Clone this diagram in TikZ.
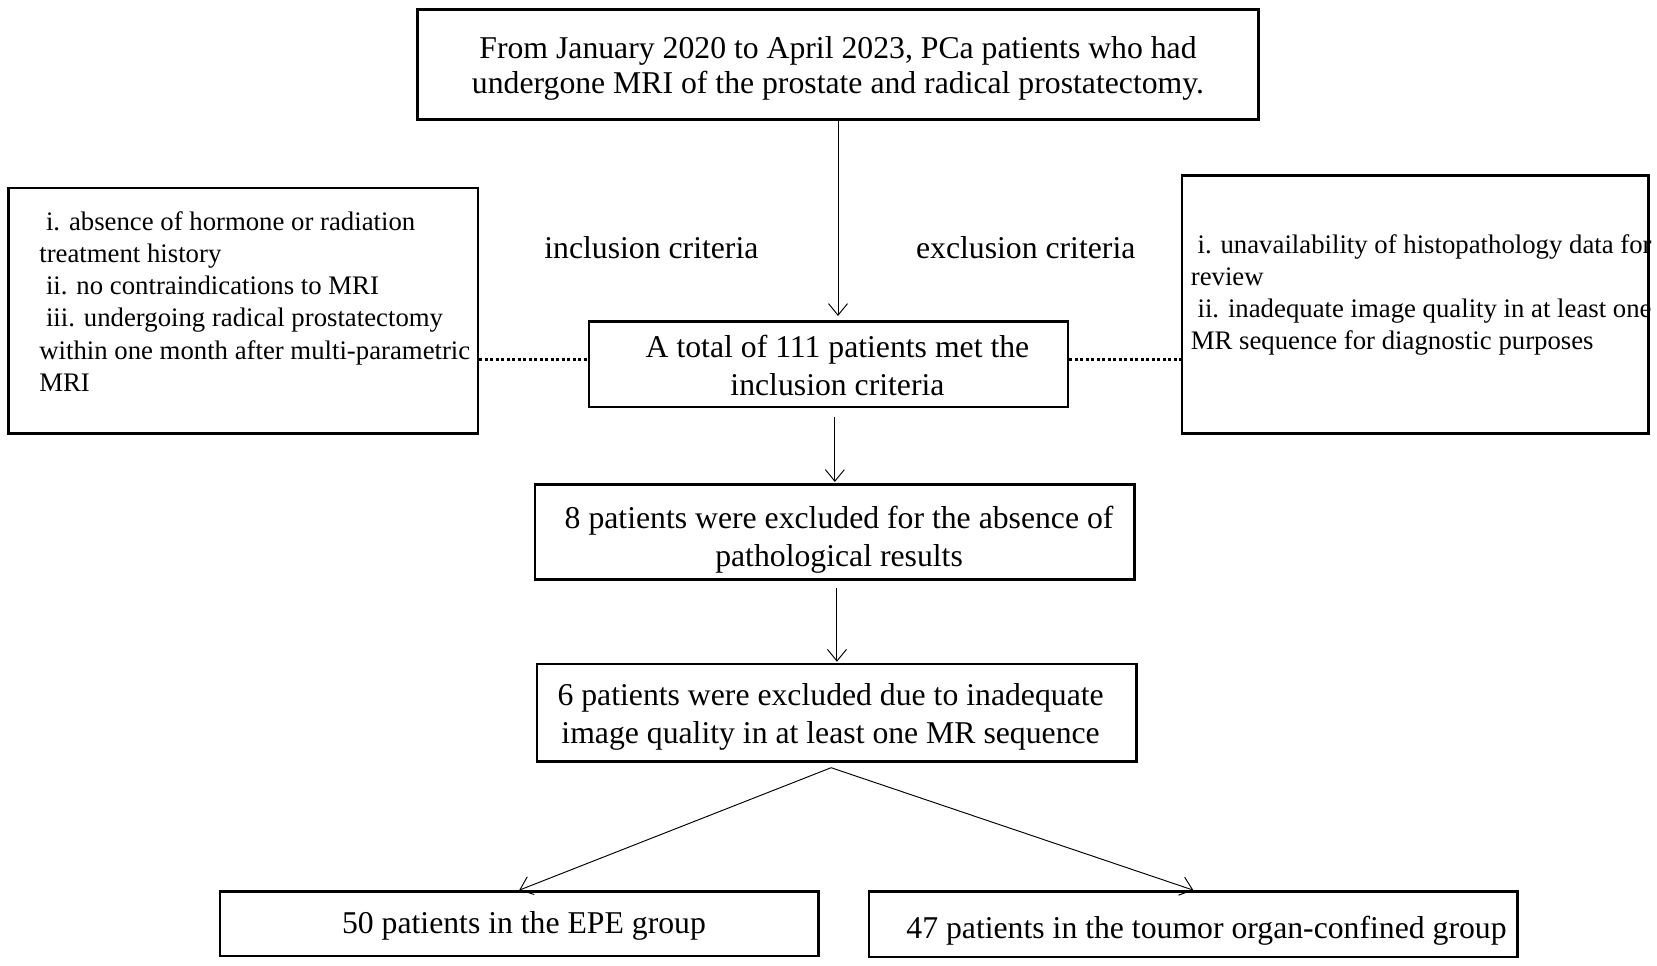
\documentclass[tikz,border=0pt]{standalone}
\usepackage{fontspec}
\setmainfont{Liberation Serif}
\usetikzlibrary{arrows.meta,calc}
\begin{document}
\begin{tikzpicture}[x=1pt,y=-1pt,
  box/.style={draw, line width=2.4pt, rectangle, inner sep=0pt},
  txt/.style={inner sep=0pt, align=center, font=\fontsize{30}{36}\selectfont},
  plain/.style={inner sep=0pt, align=left, font=\fontsize{25.3}{30.5}\selectfont},
  lbl/.style={inner sep=0pt, font=\fontsize{30}{33}\selectfont},
  arr/.style={line width=0.9pt, -{Straight Barb[length=11pt,width=18pt,line width=0.9pt]}},
  dotline/.style={line width=3.2pt, dash pattern=on 2.8pt off 2.4pt}]
\useasboundingbox (0,0) rectangle (1567,913);
\fill[white] (0,0) rectangle (1567,913);

% boxes
\node[box, minimum width=795pt, minimum height=104pt] (top) at (792.5,61) {};
\node[box, minimum width=453pt, minimum height=81pt] (total) at (783.5,344.5) {};
\node[box, minimum width=567pt, minimum height=90pt] (excl8) at (789.5,503) {};
\node[box, minimum width=567pt, minimum height=92pt] (excl6) at (791.5,674) {};
\node[box, minimum width=566pt, minimum height=61pt] (epe) at (491,873.5) {};
\node[box, minimum width=613pt, minimum height=62pt] (conf) at (1128.5,874) {};
\node[box, minimum width=444pt, minimum height=232pt] (inc) at (230,294) {};
\node[box, minimum width=441pt, minimum height=244pt] (exc) at (1338.5,288) {};

% texts
\node[txt, font=\fontsize{30}{33}\selectfont] (toptext) at (792.5,65)
  {From January 2020 to April 2023, PCa patients who had\\undergone MRI of the prostate and radical prostatectomy.};
\node[txt] (totaltext) at (792,345.5)
  {A total of 111 patients met the\\inclusion criteria};
\node[txt] (excl8text) at (793.5,510)
  {8 patients were excluded for the absence of\\pathological results};
\node[txt] (excl6text) at (785.5,678)
  {6 patients were excluded due to inadequate\\image quality in at least one MR sequence};
\node[txt] (epetext) at (495.5,875.5) {50 patients in the EPE group};
\node[txt] (conftext) at (1141,880) {47 patients in the toumor organ-confined group};

\node[plain, anchor=west] (inctext) at (37,285)
  {\ i. absence of hormone or radiation\\
   treatment history\\
   \ ii. no contraindications to MRI\\
   \ iii. undergoing radical prostatectomy\\
   within one month after multi-parametric\\
   MRI};
\node[plain, anchor=west] (exctext) at (1126,279)
  {\ i. unavailability of histopathology data for\\
   review\\
   \ ii. inadequate image quality in at least one\\
   MR sequence for diagnostic purposes};

\node[lbl] (inclbl) at (616,234) {inclusion criteria};
\node[lbl] (exclbl) at (970,234) {exclusion criteria};

% connectors
\draw[arr, shorten >=4pt] (top.south) -- (top.south |- total.north);
\draw[arr, shorten <=8pt, shorten >=1pt] (excl8.north |- total.south) -- (excl8.north);
\draw[arr, shorten <=7pt, shorten >=1pt] (excl6.north |- excl8.south) -- (excl6.north);

\coordinate (split) at (786,726);
\draw[arr] (split) -- (epe.north);
\draw[arr] (split) -- (conf.north);

\coordinate (dl) at ([yshift=4.5pt]total.west);
\coordinate (dr) at ([yshift=4.5pt]total.east);
\draw[dotline] (inc.east |- dl) -- (dl);
\draw[dotline] (dr) -- (exc.west |- dr);
\end{tikzpicture}
\end{document}
